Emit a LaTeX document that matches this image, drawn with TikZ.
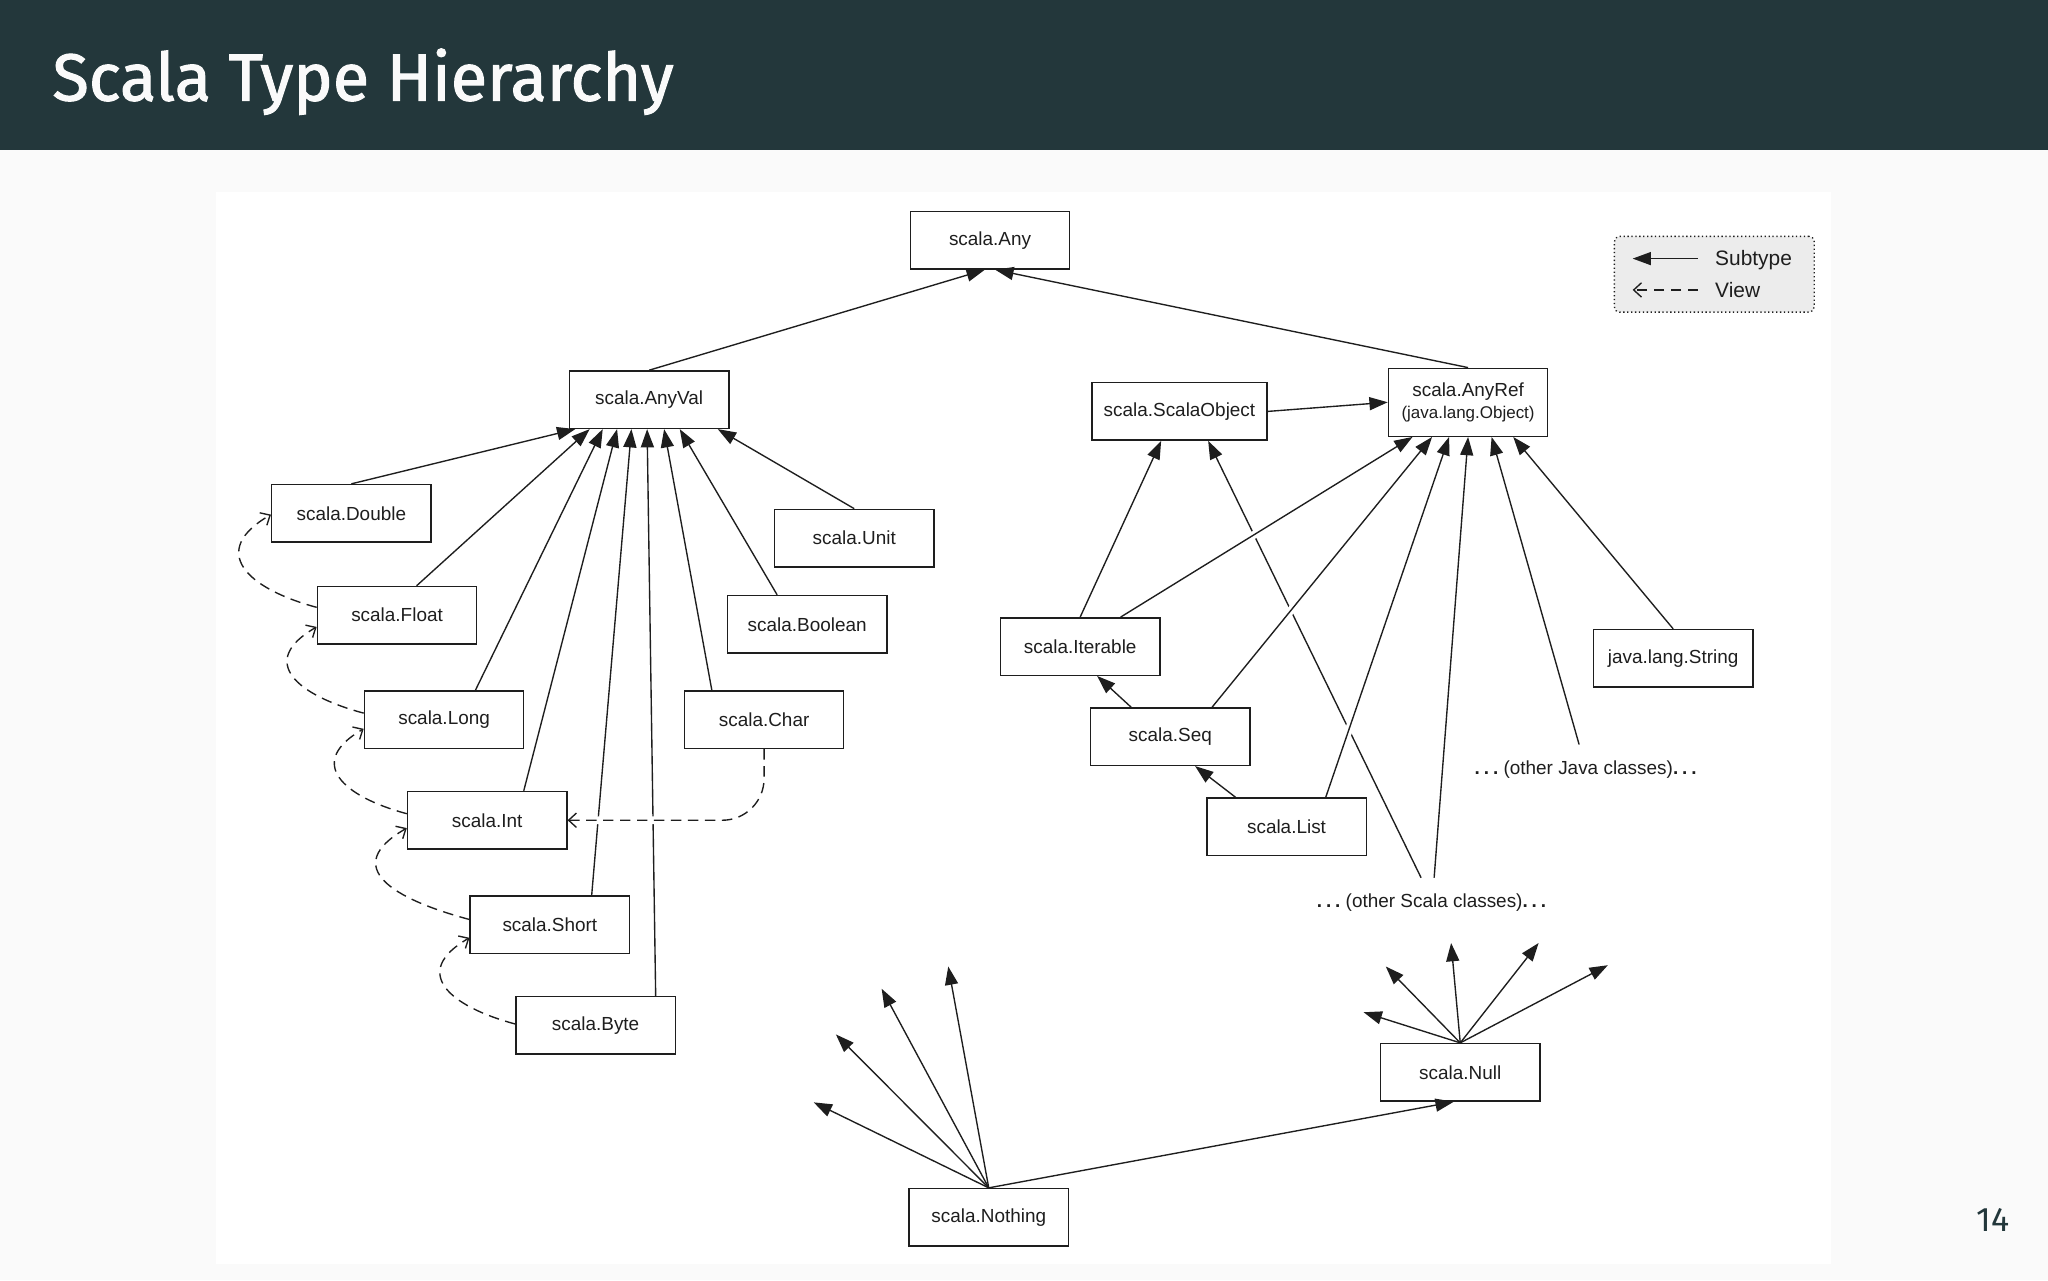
\documentclass[tikz,border=0pt]{standalone}
\usepackage{fontspec}
\usepackage{tikz}
\usetikzlibrary{arrows.meta, positioning}
\newfontfamily\diafont{Liberation Sans}
\newfontfamily\slidefont{Fira Sans}
\newfontfamily\titlefont[FakeBold=1.6]{Fira Sans}
\newcommand\spdots{\textbf{.\kern3pt.\kern3pt.}}
\definecolor{barteal}{HTML}{23373B}
\definecolor{slidebg}{HTML}{FAFAFA}
\definecolor{inkgray}{HTML}{1E1E1E}

\begin{document}
\begin{tikzpicture}[x=1pt, y=1pt,
  cls/.style={draw=inkgray, line width=1.1pt, minimum width=122pt, minimum height=44pt,
              inner sep=0pt, text=inkgray, font=\diafont\fontsize{14.5}{17}\selectfont},
  sub/.style={draw=inkgray, line width=1.05pt, -{Triangle[length=14pt,width=10pt]}},
  view/.style={draw=inkgray, line width=1.05pt, dash pattern=on 8pt off 5pt,
               -{Straight Barb[length=6pt,width=11pt]}},
  viewcurve/.style={view, out=165, in=210, looseness=1.8},
  gap/.style={preaction={draw=white, line width=6pt, solid, arrows=-,
              shorten >=40pt, shorten <=12pt}}]
  \useasboundingbox (0,0) rectangle (1568,980);
  \fill[slidebg] (0,0) rectangle (1568,980);
  \fill[white] (165,12) rectangle (1402,833);
  \fill[barteal] (0,865) rectangle (1568,980);
  \node[anchor=base west, inner sep=0pt, text=slidebg,
        font=\titlefont\fontsize{51}{58}\selectfont] (title) at (40,903) {Scala Type Hierarchy};
  \node[text=barteal, font=\slidefont\fontsize{26}{30}\selectfont] (pagenum) at (1526,46) {14};

  % value types
  \node[cls] (Any)     at (758,796) {scala.Any};
  \node[cls] (AnyVal)  at (497,674) {scala.AnyVal};
  \node[cls] (Double)  at (269,587) {scala.Double};
  \node[cls] (Float)   at (304,509) {scala.Float};
  \node[cls] (Long)    at (340,429) {scala.Long};
  \node[cls] (Int)     at (373,352) {scala.Int};
  \node[cls] (Short)   at (421,272) {scala.Short};
  \node[cls] (Byte)    at (456,195) {scala.Byte};
  \node[cls] (Unit)    at (654,568) {scala.Unit};
  \node[cls] (Boolean) at (618,502) {scala.Boolean};
  \node[cls] (Char)    at (585,429) {scala.Char};

  % reference types
  \node[cls, minimum width=134pt] (ScalaObject) at (903,665) {scala.ScalaObject};
  \node[cls, minimum height=52pt, align=center] (AnyRef) at (1124,672)
       {scala.AnyRef\\{\fontsize{13}{15}\selectfont(java.lang.Object)}};
  \node[cls] (Iterable) at (827,485) {scala.Iterable};
  \node[cls] (Seq)      at (896,416) {scala.Seq};
  \node[cls] (List)     at (985,347) {scala.List};
  \node[cls] (String)   at (1281,476) {java.lang.String};
  \node[text=inkgray, font=\diafont\fontsize{14.5}{17}\selectfont] (oJava)  at (1214,391)
       {\spdots\ (other Java classes)\spdots};
  \node[text=inkgray, font=\diafont\fontsize{14.5}{17}\selectfont] (oScala) at (1096,289)
       {\spdots\ (other Scala classes)\spdots};
  \coordinate (oJtop)  at (1209,410);
  \coordinate (oStopA) at (1088,308);
  \coordinate (oStopB) at (1098,308);

  % bottom types
  \node[cls] (Null)    at (1118,159) {scala.Null};
  \node[cls] (Nothing) at (757,48)   {scala.Nothing};
  \coordinate (nA) at (623,136);
  \coordinate (nB) at (640,188);
  \coordinate (nC) at (675,223);
  \coordinate (nD) at (726,240);
  \coordinate (uA) at (1044,205);
  \coordinate (uB) at (1061,240);
  \coordinate (uC) at (1111,258);
  \coordinate (uD) at (1178,258);
  \coordinate (uE) at (1231,241);

  % legend
  \node[draw=inkgray, dotted, line width=1pt, fill=gray!15, rounded corners=4pt,
        minimum width=153pt, minimum height=58pt] (legend) at (1312.5,770) {};
  \node[anchor=west, inner sep=0pt, text=inkgray, font=\diafont\fontsize{16}{19}\selectfont]
       (lgSub) at (1313,781) {Subtype};
  \node[anchor=west, inner sep=0pt, text=inkgray, font=\diafont\fontsize{16}{19}\selectfont]
       (lgView) at (1313,758) {View};
  \coordinate (lgSubEnd)  at (1250,782);
  \coordinate (lgViewEnd) at (1250,758);
  \draw[sub]  ([xshift=-13pt]lgSub.west |- lgSubEnd) -- (lgSubEnd);
  \draw[view] ([xshift=-13pt]lgView.west |- lgViewEnd) -- (lgViewEnd);

  % subtype edges, top
  \draw[sub] (AnyVal.north) -- ([xshift=-4pt]Any.south);
  \draw[sub] (AnyRef.north) -- ([xshift=4pt]Any.south);

  % subtype edges into AnyVal
  \draw[sub] (Double.north)               -- ([xshift=5pt]AnyVal.south west);
  \draw[sub] ([xshift=15pt]Float.north)   -- ([xshift=16pt]AnyVal.south west);
  \draw[sub] ([xshift=24pt]Long.north)    -- ([xshift=26pt]AnyVal.south west);
  \draw[sub] ([xshift=28pt]Int.north)     -- ([xshift=37pt]AnyVal.south west);
  \draw[sub] ([xshift=32pt]Short.north)   -- ([xshift=48pt]AnyVal.south west);
  \draw[sub] ([xshift=46pt]Byte.north)    -- ([xshift=60pt]AnyVal.south west);
  \draw[sub] ([xshift=-40pt]Char.north)   -- ([xshift=73pt]AnyVal.south west);
  \draw[sub] ([xshift=-23pt]Boolean.north) -- ([xshift=85pt]AnyVal.south west);
  \draw[sub] (Unit.north)                 -- ([xshift=-9pt]AnyVal.south east);

  % views between value types
  \draw[viewcurve] ([yshift=6pt]Float.west) to ([yshift=-1pt]Double.west);
  \draw[viewcurve] ([yshift=5pt]Long.west)  to ([yshift=-9pt]Float.west);
  \draw[viewcurve] ([yshift=5pt]Int.west)   to ([yshift=-7pt]Long.west);
  \draw[viewcurve] ([yshift=4pt]Short.west) to ([yshift=-6pt]Int.west);
  \draw[viewcurve] ([yshift=1pt]Byte.west)  to ([yshift=-10pt]Short.west);
  \draw[view, rounded corners=32pt,
        preaction={draw=white, line width=6pt, solid, arrows=-, shorten >=12pt, shorten <=4pt}]
       (Char.south) |- (Int.east);

  % subtype edges, reference side
  \draw[sub] (oStopA) -- ([xshift=22pt]ScalaObject.south);
  \draw[sub] (ScalaObject.east) -- (AnyRef.west);
  \draw[sub] (Iterable.north) -- ([xshift=-14pt]ScalaObject.south);
  \draw[sub, gap] ([xshift=31pt]Iterable.north) -- ([xshift=19pt]AnyRef.south west);
  \draw[sub, gap] ([xshift=32pt]Seq.north)      -- ([xshift=34pt]AnyRef.south west);
  \draw[sub, gap] ([xshift=30pt]List.north)     -- ([xshift=47pt]AnyRef.south west);
  \draw[sub] (oStopB) -- (AnyRef.south);
  \draw[sub] (oJtop)  -- ([xshift=18pt]AnyRef.south);
  \draw[sub] (String.north) -- ([xshift=-27pt]AnyRef.south east);
  \draw[sub] ([xshift=-30pt]Seq.north)  -- ([xshift=13pt]Iterable.south);
  \draw[sub] ([xshift=-39pt]List.north) -- ([xshift=19pt]Seq.south);

  % bottom types
  \draw[sub] (Nothing.north) -- (nA);
  \draw[sub] (Nothing.north) -- (nB);
  \draw[sub] (Nothing.north) -- (nC);
  \draw[sub] (Nothing.north) -- (nD);
  \draw[sub] (Nothing.north) -- ([xshift=-5pt]Null.south);
  \draw[sub] (Null.north) -- (uA);
  \draw[sub] (Null.north) -- (uB);
  \draw[sub] (Null.north) -- (uC);
  \draw[sub] (Null.north) -- (uD);
  \draw[sub] (Null.north) -- (uE);
\end{tikzpicture}
\end{document}
